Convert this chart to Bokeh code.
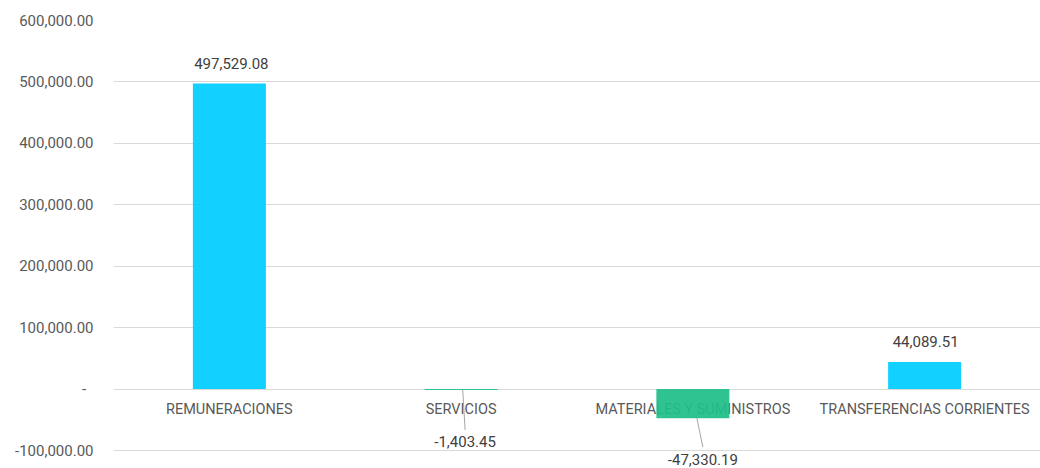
from bokeh.plotting import figure
from bokeh.models import FactorRange, Range1d, FixedTicker, ColumnDataSource, LabelSet
from bokeh.core.properties import value
from bokeh.embed import file_html
from bokeh.resources import INLINE

# ---- data ----
categories = ["REMUNERACIONES", "SERVICIOS", "MATERIALES Y SUMINISTROS", "TRANSFERENCIAS CORRIENTES"]
values = [497529.08, -1403.45, -47330.19, 44089.51]
value_labels = ["497,529.08", "-1,403.45", "-47,330.19", "44,089.51"]
y_ticks = [-100000, 0, 100000, 200000, 300000, 400000, 500000, 600000]
y_tick_labels = ["-100,000.00", "-\u00a0\u00a0", "100,000.00", "200,000.00", "300,000.00",
                 "400,000.00", "500,000.00", "600,000.00"]

# ---- style ----
POS = "#00CCFF"
NEG = "#1FBE8A"
colors = [POS if v >= 0 else NEG for v in values]
label_dx_px = [2, 4, 10, 1]         # horizontal shift of data labels
label_dy_px = [20, -52, -41, 20]    # vertical shift of data labels from bar end
has_leader = [False, True, True, False]
FONT = "Roboto"

W, H = 1040, 468
ML, MR, MT, MB = 113, 0, 20, 0
x_start, x_end = 0.0, 4.0
y_end = 600000
px_per_unit = 430 / 700000          # 600k..-100k spans 430 px
frame_w = W - ML - MR
frame_h = H - MT - MB
y_start = y_end - frame_h / px_per_unit
ux = (x_end - x_start) / frame_w
uy = 1 / px_per_unit

p = figure(width=W, height=H, output_backend="svg", toolbar_location=None,
           x_range=FactorRange(factors=categories, start=x_start, end=x_end),
           y_range=Range1d(y_start, y_end), x_axis_location=None,
           min_border_left=ML, min_border_right=MR, min_border_top=MT, min_border_bottom=MB)
p.outline_line_color = None
p.xgrid.grid_line_color = None
p.ygrid.grid_line_color = "#D9D9D9"
p.ygrid.grid_line_width = 1
p.ygrid.ticker = FixedTicker(ticks=y_ticks)

ya = p.yaxis[0]
ya.ticker = FixedTicker(ticks=y_ticks)
ya.major_label_overrides = {t: l for t, l in zip(y_ticks, y_tick_labels)}
ya.axis_line_color = None
ya.major_tick_line_color = None
ya.minor_tick_line_color = None
ya.major_tick_out = 0
ya.major_label_standoff = 20
ya.major_label_text_font = FONT
ya.major_label_text_font_size = "15px"
ya.major_label_text_color = "#595959"

src = ColumnDataSource(dict(
    cat=categories, val=values, lab=value_labels, color=colors,
    zero=[0] * len(categories),
    dx=label_dx_px, dy=label_dy_px,
))

# category labels next to the zero line (under the bars)
cat_labels = LabelSet(x="cat", y="zero", text="cat", source=src, y_offset=-20,
                      text_align="center", text_baseline="middle",
                      text_font=value(FONT), text_font_size=value("14.5px"),
                      text_color=value("#595959"), level="underlay")
p.add_layout(cat_labels)

p.vbar(x="cat", top="val", bottom=0, width=0.315, source=src,
       fill_color="color", line_color=None, fill_alpha=0.93)

# leader lines for labels placed away from the bars
lx0, ly0, lx1, ly1 = [], [], [], []
for i, (v, dx, dy, h) in enumerate(zip(values, label_dx_px, label_dy_px, has_leader)):
    if not h:
        continue
    c = i + 0.5
    lx0.append(c + 0.4 * dx * ux)
    ly0.append(min(v, 0))
    lx1.append(c + 1.0 * dx * ux)
    ly1.append(v + (dy + 12) * uy)
p.segment(x0=lx0, y0=ly0, x1=lx1, y1=ly1, line_color="#A6A6A6", line_width=1)

data_labels = LabelSet(x="cat", y="val", text="lab", source=src,
                       x_offset="dx", y_offset="dy",
                       text_align="center", text_baseline="middle",
                       text_font=value(FONT), text_font_size=value("15px"),
                       text_color=value("#404040"))
p.add_layout(data_labels)

open("out.html", "w").write(file_html(p, INLINE))
